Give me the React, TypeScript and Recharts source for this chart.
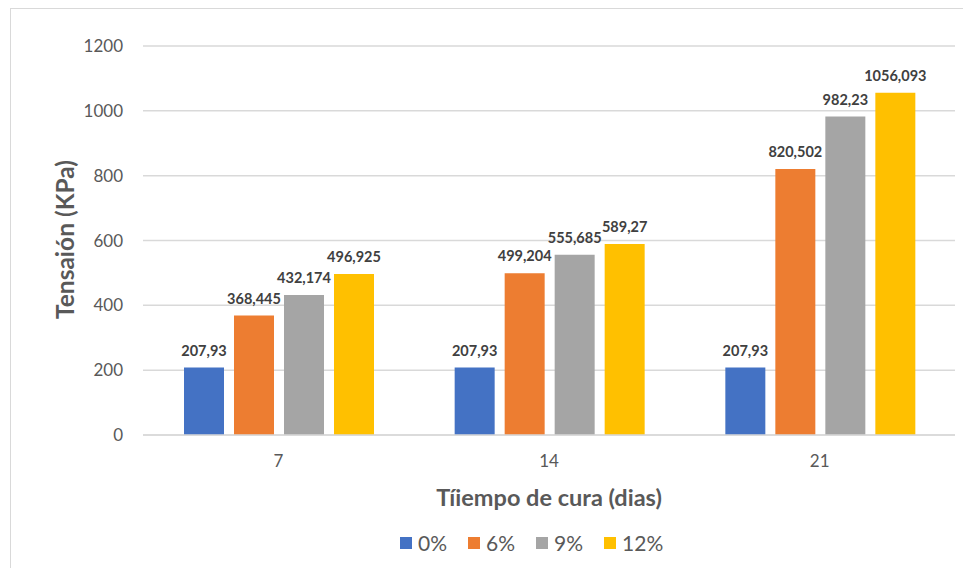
import React from 'react';
import { BarChart, Bar, XAxis, YAxis, CartesianGrid, Legend, LabelList, Label } from 'recharts';

// curing time (days)
const dias = ['7', '14', '21'];
// tension (KPa) per mix percentage
const pct0 = [207.93, 207.93, 207.93];
const pct6 = [368.445, 499.204, 820.502];
const pct9 = [432.174, 555.685, 982.23];
const pct12 = [496.925, 589.27, 1056.093];
const yTicks = [0, 200, 400, 600, 800, 1000, 1200];

const seriesNames = ['0%', '6%', '9%', '12%'];
const seriesColors = ['#4472C4', '#ED7D31', '#A5A5A5', '#FFC000'];

const data = dias.map((d, i) => ({
  dia: d,
  '0%': pct0[i],
  '6%': pct6[i],
  '9%': pct9[i],
  '12%': pct12[i],
}));

const FONT = 'Lato, "Noto Sans", sans-serif';
const fmt = (v: any) => String(v).replace('.', ',');

const renderLegend = () => (
  <div style={{ display: 'flex', alignItems: 'center', fontFamily: FONT, fontSize: 21, color: '#595959', lineHeight: '24px' }}>
    {seriesNames.map((n, i) => (
      <div key={n} style={{ display: 'flex', alignItems: 'center', marginRight: i < seriesNames.length - 1 ? 21 : 0 }}>
        <span style={{ width: 12, height: 12, background: seriesColors[i], display: 'inline-block', marginRight: 6 }} />
        <span>{n}</span>
      </div>
    ))}
  </div>
);

export default function App() {
  return (
    <div style={{ position: 'relative', width: 963, height: 568, background: '#fff', overflow: 'hidden' }}>
      <style>{'body{margin:0}'}</style>
      <div style={{ position: 'absolute', left: 10, top: 8, width: 1000, height: 600, borderLeft: '1px solid #d9d9d9', borderTop: '1px solid #d9d9d9' }} />
      <BarChart
        width={963}
        height={568}
        data={data}
        margin={{ top: 46, right: 8, left: 0, bottom: 53 }}
        barCategoryGap={41}
        barGap={10}
        style={{ position: 'absolute', left: 0, top: 0, fontFamily: FONT }}
      >
        <CartesianGrid vertical={false} stroke="#d9d9d9" strokeWidth={1.5} />
        <XAxis
          dataKey="dia"
          height={80}
          axisLine={{ stroke: '#d9d9d9', strokeWidth: 1.5 }}
          tickLine={false}
          tickSize={0}
          tickMargin={20}
          tick={{ fill: '#595959', fontSize: 17 }}
        >
          <Label
            content={({ viewBox }: any) => (
              <text x={viewBox.x + viewBox.width / 2} y={viewBox.y + 71} textAnchor="middle" fill="#595959" fontSize={23.5} fontWeight="bold">
                Tíiempo de cura (dias)
              </text>
            )}
          />
        </XAxis>
        <YAxis
          width={143}
          domain={[0, 1200]}
          ticks={yTicks}
          axisLine={false}
          tickLine={false}
          tickSize={0}
          tickMargin={20}
          tick={{ fill: '#595959', fontSize: 17 }}
        >
          <Label
            content={({ viewBox }: any) => {
              const cx = viewBox.x + 64;
              const cy = viewBox.y + viewBox.height / 2 - 1;
              return (
                <text x={cx} y={cy} transform={`rotate(-90 ${cx} ${cy})`} textAnchor="middle" dominantBaseline="central" fill="#595959" fontSize={24.5} fontWeight="bold">
                  Tensaión (KPa)
                </text>
              );
            }}
          />
        </YAxis>
        <Legend verticalAlign="middle" content={renderLegend} wrapperStyle={{ top: 531, left: 400, width: 300 }} />
        {seriesNames.map((n, i) => (
          <Bar key={n} dataKey={n} fill={seriesColors[i]} isAnimationActive={false}>
            <LabelList dataKey={n} position="top" offset={12} formatter={fmt} fill="#404040" fontSize={14.5} fontWeight="bold" />
          </Bar>
        ))}
      </BarChart>
    </div>
  );
}
